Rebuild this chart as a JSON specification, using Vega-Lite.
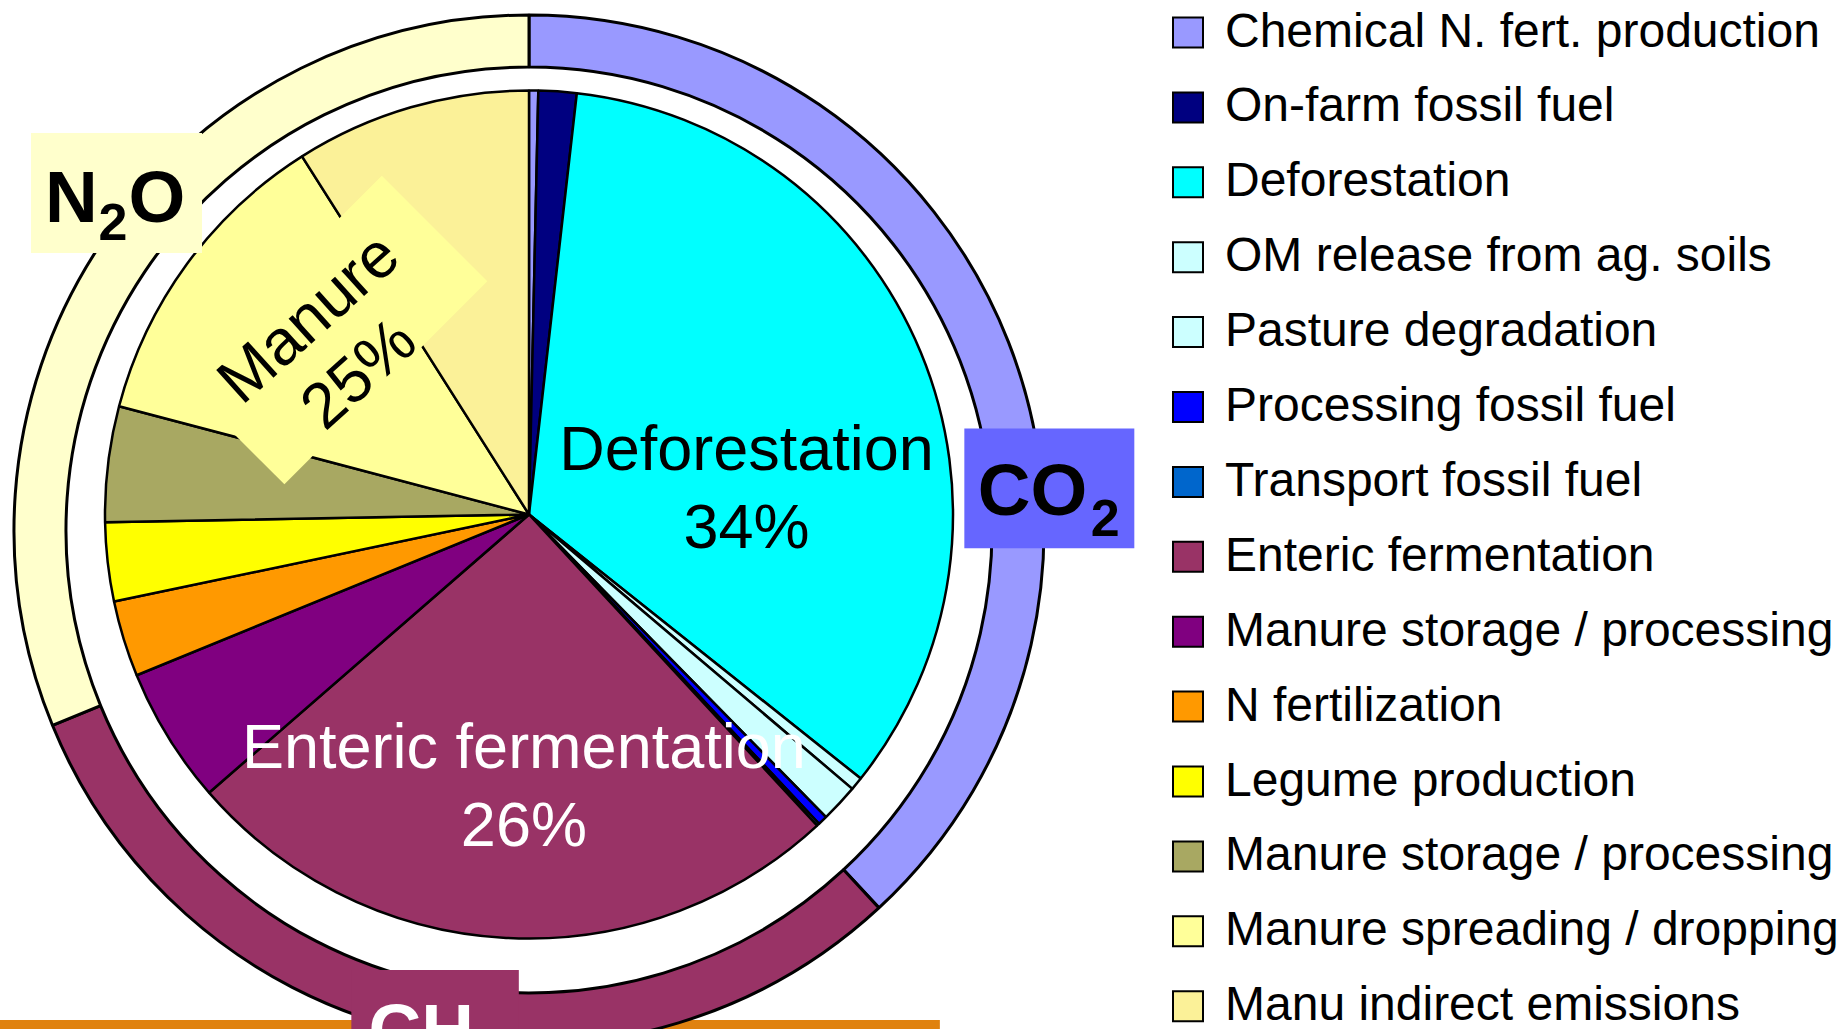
{
  "$schema": "https://vega.github.io/schema/vega-lite/v6.json",
  "width": 1058,
  "height": 1029,
  "padding": 0,
  "autosize": {"type": "pad"},
  "background": "white",
  "config": {"view": {"stroke": null}, "axis": {"disable": true}, "text": {"font": "Liberation Sans"}},
  "datasets": {
    "sources": [
      {"idx": 1, "source": "Chemical N. fert. production", "gas": "CO2", "share": 0.35},
      {"idx": 2, "source": "On-farm fossil fuel", "gas": "CO2", "share": 1.45},
      {"idx": 3, "source": "Deforestation", "gas": "CO2", "share": 33.9},
      {"idx": 4, "source": "OM release from ag. soils", "gas": "CO2", "share": 0.5},
      {"idx": 5, "source": "Pasture degradation", "gas": "CO2", "share": 1.45},
      {"idx": 6, "source": "Processing fossil fuel", "gas": "CO2", "share": 0.36},
      {"idx": 7, "source": "Transport fossil fuel", "gas": "CO2", "share": 0.1},
      {"idx": 8, "source": "Enteric fermentation", "gas": "CH4", "share": 25.5},
      {"idx": 9, "source": "Manure storage / processing", "gas": "CH4", "share": 5.2},
      {"idx": 10, "source": "N fertilization", "gas": "N2O", "share": 2.9},
      {"idx": 11, "source": "Legume production", "gas": "N2O", "share": 3.0},
      {"idx": 12, "source": "Manure storage / processing ", "gas": "N2O", "share": 4.4},
      {"idx": 13, "source": "Manure spreading / dropping", "gas": "N2O", "share": 11.9},
      {"idx": 14, "source": "Manu indirect emissions", "gas": "N2O", "share": 8.99}
    ]
  },
  "data": {"name": "sources"},
  "resolve": {"scale": {"color": "independent"}},
  "layer": [
    {
      "data": {"values": [{"item": "slide footer"}]},
      "mark": {"type": "rect", "color": "#E0820F"},
      "encoding": {
        "x": {"datum": -124.76, "type": "quantitative", "scale": {"domain": [-124.76, 124.76], "nice": false, "zero": false}},
        "x2": {"datum": 96.9},
        "y": {"datum": -119.2, "type": "quantitative", "scale": {"domain": [-121.34, 121.34], "nice": false, "zero": false}},
        "y2": {"datum": -125}
      }
    },
    {
      "transform": [
        {"aggregate": [{"op": "sum", "field": "share", "as": "total"}, {"op": "min", "field": "idx", "as": "first"}], "groupby": ["gas"]}
      ],
      "mark": {"type": "arc", "innerRadius": 463, "outerRadius": 515, "stroke": "black", "strokeWidth": 3, "strokeJoin": "bevel"},
      "encoding": {
        "theta": {"field": "total", "type": "quantitative", "stack": true},
        "order": {"field": "first", "type": "quantitative"},
        "color": {"field": "gas", "type": "nominal", "scale": {"domain": ["CO2", "CH4", "N2O"], "range": ["#9999FF", "#993366", "#FFFFCC"]}, "legend": null},
        "y": {"datum": -3.66, "type": "quantitative", "scale": {"domain": [-121.34, 121.34], "nice": false, "zero": false}}
      }
    },
    {
      "mark": {"type": "arc", "outerRadius": 424, "stroke": "black", "strokeWidth": 2.5, "strokeJoin": "bevel"},
      "encoding": {
        "theta": {"field": "share", "type": "quantitative", "stack": true},
        "order": {"field": "idx", "type": "quantitative"},
        "color": {
          "field": "source",
          "type": "nominal",
          "scale": {
            "domain": ["Chemical N. fert. production", "On-farm fossil fuel", "Deforestation", "OM release from ag. soils", "Pasture degradation", "Processing fossil fuel", "Transport fossil fuel", "Enteric fermentation", "Manure storage / processing", "N fertilization", "Legume production", "Manure storage / processing ", "Manure spreading / dropping", "Manu indirect emissions"],
            "range": ["#9999FF", "#000080", "#00FFFF", "#CCFFFF", "#CCFFFF", "#0000FF", "#0066CC", "#993366", "#800080", "#FF9900", "#FFFF00", "#A8A862", "#FFFF99", "#FBF198"]
          },
          "legend": {
            "orient": "none", "legendX": 1164, "legendY": 8.5, "title": null,
            "symbolType": "square", "symbolSize": 900, "symbolStrokeColor": "black", "symbolStrokeWidth": 2, "symbolOpacity": 1,
            "labelFontSize": 48, "labelFont": "Liberation Sans", "labelColor": "black", "labelOffset": 13,
            "rowPadding": 26.9, "labelLimit": 1000
          }
        }
      }
    },
    {
      "data": {"values": [{"item": "Manure label background"}]},
      "mark": {"type": "point", "shape": "M-1,-0.52L1,-0.52L1,0.52L-1,0.52Z", "size": 82369, "angle": -45, "filled": true, "color": "#FFFF99", "opacity": 1, "strokeWidth": 0},
      "encoding": {
        "x": {"datum": -46.2, "type": "quantitative", "scale": {"domain": [-124.76, 124.76], "nice": false, "zero": false}},
        "y": {"datum": 43.5, "type": "quantitative", "scale": {"domain": [-121.34, 121.34], "nice": false, "zero": false}}
      }
    },
    {
      "data": {"values": [{"gas": "N2O"}]},
      "mark": {"type": "rect", "color": "#FFFFCC"},
      "encoding": {
        "x": {"datum": -117.45, "type": "quantitative", "scale": {"domain": [-124.76, 124.76], "nice": false, "zero": false}},
        "x2": {"datum": -77.12},
        "y": {"datum": 89.98, "type": "quantitative", "scale": {"domain": [-121.34, 121.34], "nice": false, "zero": false}},
        "y2": {"datum": 61.67}
      }
    },
    {
      "data": {"values": [{"gas": "CO2"}]},
      "mark": {"type": "rect", "color": "#6666FF"},
      "encoding": {
        "x": {"datum": 102.67, "type": "quantitative", "scale": {"domain": [-124.76, 124.76], "nice": false, "zero": false}},
        "x2": {"datum": 142.76},
        "y": {"datum": 20.26, "type": "quantitative", "scale": {"domain": [-121.34, 121.34], "nice": false, "zero": false}},
        "y2": {"datum": -7.95}
      }
    },
    {
      "data": {"values": [{"gas": "CH4"}]},
      "mark": {"type": "rect", "color": "#993366"},
      "encoding": {
        "x": {"datum": -41.9, "type": "quantitative", "scale": {"domain": [-124.76, 124.76], "nice": false, "zero": false}},
        "x2": {"datum": -2.4},
        "y": {"datum": -107.43, "type": "quantitative", "scale": {"domain": [-121.34, 121.34], "nice": false, "zero": false}},
        "y2": {"datum": -125}
      }
    },
    {
      "data": {"values": [{"label": "Deforestation\n34%"}]},
      "mark": {"type": "text", "fontSize": 63, "lineBreak": "\n", "lineHeight": 78, "align": "center", "baseline": "alphabetic", "color": "black"},
      "encoding": {
        "text": {"field": "label"},
        "x": {"datum": 51.3, "type": "quantitative", "scale": {"domain": [-124.76, 124.76], "nice": false, "zero": false}},
        "y": {"datum": 10.6, "type": "quantitative", "scale": {"domain": [-121.34, 121.34], "nice": false, "zero": false}}
      }
    },
    {
      "data": {"values": [{"label": "Enteric fermentation\n26%"}]},
      "mark": {"type": "text", "fontSize": 63, "lineBreak": "\n", "lineHeight": 78, "align": "center", "baseline": "alphabetic", "color": "white"},
      "encoding": {
        "text": {"field": "label"},
        "x": {"datum": -1.2, "type": "quantitative", "scale": {"domain": [-124.76, 124.76], "nice": false, "zero": false}},
        "y": {"datum": -59.8, "type": "quantitative", "scale": {"domain": [-121.34, 121.34], "nice": false, "zero": false}}
      }
    },
    {
      "data": {"values": [{"label": "Manure\n25%"}]},
      "mark": {"type": "text", "fontSize": 64, "lineBreak": "\n", "lineHeight": 75, "align": "center", "baseline": "middle", "angle": -42, "color": "black"},
      "encoding": {
        "text": {"field": "label"},
        "x": {"datum": -51.7, "type": "quantitative", "scale": {"domain": [-124.76, 124.76], "nice": false, "zero": false}},
        "y": {"datum": 46.0, "type": "quantitative", "scale": {"domain": [-121.34, 121.34], "nice": false, "zero": false}}
      }
    },
    {
      "data": {"values": [{"label": "N"}]},
      "mark": {"type": "text", "fontSize": 73, "fontWeight": "bold", "align": "left", "baseline": "alphabetic", "color": "black"},
      "encoding": {
        "text": {"field": "label"},
        "x": {"datum": -114.15, "type": "quantitative", "scale": {"domain": [-124.76, 124.76], "nice": false, "zero": false}},
        "y": {"datum": 69.06, "type": "quantitative", "scale": {"domain": [-121.34, 121.34], "nice": false, "zero": false}}
      }
    },
    {
      "data": {"values": [{"label": "2"}]},
      "mark": {"type": "text", "fontSize": 52, "fontWeight": "bold", "align": "left", "baseline": "alphabetic", "color": "black"},
      "encoding": {
        "text": {"field": "label"},
        "x": {"datum": -101.53, "type": "quantitative", "scale": {"domain": [-124.76, 124.76], "nice": false, "zero": false}},
        "y": {"datum": 64.74, "type": "quantitative", "scale": {"domain": [-121.34, 121.34], "nice": false, "zero": false}}
      }
    },
    {
      "data": {"values": [{"label": "O"}]},
      "mark": {"type": "text", "fontSize": 73, "fontWeight": "bold", "align": "left", "baseline": "alphabetic", "color": "black"},
      "encoding": {
        "text": {"field": "label"},
        "x": {"datum": -94.48, "type": "quantitative", "scale": {"domain": [-124.76, 124.76], "nice": false, "zero": false}},
        "y": {"datum": 69.06, "type": "quantitative", "scale": {"domain": [-121.34, 121.34], "nice": false, "zero": false}}
      }
    },
    {
      "data": {"values": [{"label": "CO"}]},
      "mark": {"type": "text", "fontSize": 73, "fontWeight": "bold", "align": "left", "baseline": "alphabetic", "color": "black"},
      "encoding": {
        "text": {"field": "label"},
        "x": {"datum": 105.83, "type": "quantitative", "scale": {"domain": [-124.76, 124.76], "nice": false, "zero": false}},
        "y": {"datum": -0.12, "type": "quantitative", "scale": {"domain": [-121.34, 121.34], "nice": false, "zero": false}}
      }
    },
    {
      "data": {"values": [{"label": "2"}]},
      "mark": {"type": "text", "fontSize": 52, "fontWeight": "bold", "align": "left", "baseline": "alphabetic", "color": "black"},
      "encoding": {
        "text": {"field": "label"},
        "x": {"datum": 132.5, "type": "quantitative", "scale": {"domain": [-124.76, 124.76], "nice": false, "zero": false}},
        "y": {"datum": -5.0, "type": "quantitative", "scale": {"domain": [-121.34, 121.34], "nice": false, "zero": false}}
      }
    },
    {
      "data": {"values": [{"label": "CH"}]},
      "mark": {"type": "text", "fontSize": 73, "fontWeight": "bold", "align": "left", "baseline": "alphabetic", "color": "white"},
      "encoding": {
        "text": {"field": "label"},
        "x": {"datum": -37.85, "type": "quantitative", "scale": {"domain": [-124.76, 124.76], "nice": false, "zero": false}},
        "y": {"datum": -127.48, "type": "quantitative", "scale": {"domain": [-121.34, 121.34], "nice": false, "zero": false}}
      }
    }
  ]
}
